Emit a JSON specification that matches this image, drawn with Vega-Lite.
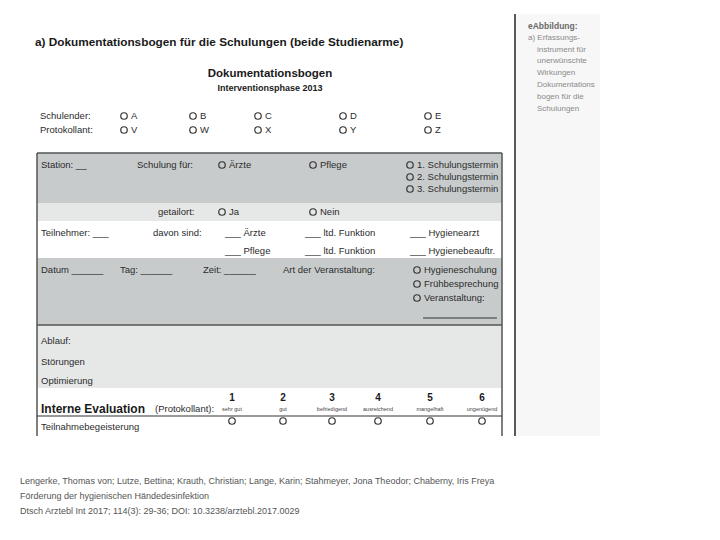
{
  "$schema": "https://vega.github.io/schema/vega-lite/v6.json",
  "width": 720,
  "height": 540,
  "autosize": {"type": "none"},
  "padding": 0,
  "background": "white",
  "config": {"view": {"stroke": null}},
  "datasets": {
    "bands": [
      {"x": 516, "x2": 600, "y": 14, "y2": 436, "band": "side"},
      {"x": 37, "x2": 502, "y": 153, "y2": 203, "band": "dark"},
      {"x": 37, "x2": 502, "y": 203, "y2": 221, "band": "light"},
      {"x": 37, "x2": 502, "y": 258, "y2": 325, "band": "dark"},
      {"x": 37, "x2": 502, "y": 325, "y2": 388, "band": "light"}
    ],
    "lines": [
      {"x": 515, "x2": 515, "y": 14, "y2": 436, "kind": "sep"},
      {"x": 37, "x2": 37, "y": 153, "y2": 436, "kind": "border"},
      {"x": 502, "x2": 502, "y": 153, "y2": 436, "kind": "border"},
      {"x": 37, "x2": 502, "y": 153, "y2": 153, "kind": "border"},
      {"x": 37, "x2": 502, "y": 325, "y2": 325, "kind": "border"},
      {"x": 37, "x2": 502, "y": 416, "y2": 416, "kind": "thin"},
      {"x": 423, "x2": 497, "y": 318, "y2": 318, "kind": "thin"}
    ],
    "radios": [
      {"x": 124, "y": 116}, {"x": 193, "y": 116}, {"x": 258, "y": 116}, {"x": 343, "y": 116}, {"x": 428, "y": 116},
      {"x": 124, "y": 130}, {"x": 193, "y": 130}, {"x": 258, "y": 130}, {"x": 343, "y": 130}, {"x": 428, "y": 130},
      {"x": 222, "y": 165}, {"x": 313, "y": 165}, {"x": 410, "y": 165}, {"x": 410, "y": 177}, {"x": 410, "y": 189},
      {"x": 222, "y": 212}, {"x": 313, "y": 212},
      {"x": 417, "y": 270}, {"x": 417, "y": 284}, {"x": 417, "y": 298},
      {"x": 232, "y": 421}, {"x": 283, "y": 421}, {"x": 332, "y": 421}, {"x": 378, "y": 421}, {"x": 430, "y": 421}, {"x": 482, "y": 421}
    ],
    "texts": [
      {"role": "title", "x": 35, "y": 42, "text": "a) Dokumentationsbogen für die Schulungen (beide Studienarme)"},
      {"role": "head", "x": 270, "y": 74, "text": "Dokumentationsbogen"},
      {"role": "sub", "x": 270, "y": 88, "text": "Interventionsphase 2013"},
      {"role": "form", "x": 40, "y": 116, "text": "Schulender:"},
      {"role": "form", "x": 40, "y": 130, "text": "Protokollant:"},
      {"role": "form", "x": 131, "y": 116, "text": "A"},
      {"role": "form", "x": 200, "y": 116, "text": "B"},
      {"role": "form", "x": 265, "y": 116, "text": "C"},
      {"role": "form", "x": 350, "y": 116, "text": "D"},
      {"role": "form", "x": 435, "y": 116, "text": "E"},
      {"role": "form", "x": 131, "y": 130, "text": "V"},
      {"role": "form", "x": 200, "y": 130, "text": "W"},
      {"role": "form", "x": 265, "y": 130, "text": "X"},
      {"role": "form", "x": 350, "y": 130, "text": "Y"},
      {"role": "form", "x": 435, "y": 130, "text": "Z"},
      {"role": "form", "x": 41, "y": 165, "text": "Station: __"},
      {"role": "form", "x": 137, "y": 165, "text": "Schulung für:"},
      {"role": "form", "x": 229, "y": 165, "text": "Ärzte"},
      {"role": "form", "x": 320, "y": 165, "text": "Pflege"},
      {"role": "form", "x": 417, "y": 165, "text": "1. Schulungstermin"},
      {"role": "form", "x": 417, "y": 177, "text": "2. Schulungstermin"},
      {"role": "form", "x": 417, "y": 189, "text": "3. Schulungstermin"},
      {"role": "form", "x": 158, "y": 212, "text": "getailort:"},
      {"role": "form", "x": 229, "y": 212, "text": "Ja"},
      {"role": "form", "x": 320, "y": 212, "text": "Nein"},
      {"role": "form", "x": 41, "y": 233, "text": "Teilnehmer: ___"},
      {"role": "form", "x": 153, "y": 233, "text": "davon sind:"},
      {"role": "form", "x": 225, "y": 233, "text": "___ Ärzte"},
      {"role": "form", "x": 305, "y": 233, "text": "___ ltd. Funktion"},
      {"role": "form", "x": 410, "y": 233, "text": "___ Hygienearzt"},
      {"role": "form", "x": 225, "y": 251, "text": "___ Pflege"},
      {"role": "form", "x": 305, "y": 251, "text": "___ ltd. Funktion"},
      {"role": "form", "x": 410, "y": 251, "text": "___ Hygienebeauftr."},
      {"role": "form", "x": 41, "y": 270, "text": "Datum ______"},
      {"role": "form", "x": 120, "y": 270, "text": "Tag: ______"},
      {"role": "form", "x": 203, "y": 270, "text": "Zeit: ______"},
      {"role": "form", "x": 283, "y": 270, "text": "Art der Veranstaltung:"},
      {"role": "form", "x": 424, "y": 270, "text": "Hygieneschulung"},
      {"role": "form", "x": 424, "y": 284, "text": "Frühbesprechung"},
      {"role": "form", "x": 424, "y": 298, "text": "Veranstaltung:"},
      {"role": "form", "x": 41, "y": 341, "text": "Ablauf:"},
      {"role": "form", "x": 41, "y": 362, "text": "Störungen"},
      {"role": "form", "x": 41, "y": 381, "text": "Optimierung"},
      {"role": "form", "x": 41, "y": 427, "text": "Teilnahmebegeisterung"},
      {"role": "formbold", "x": 41, "y": 409, "text": "Interne Evaluation"},
      {"role": "form", "x": 155, "y": 409, "text": "(Protokollant):"},
      {"role": "num", "x": 232, "y": 398, "text": "1"},
      {"role": "num", "x": 283, "y": 398, "text": "2"},
      {"role": "num", "x": 332, "y": 398, "text": "3"},
      {"role": "num", "x": 378, "y": 398, "text": "4"},
      {"role": "num", "x": 430, "y": 398, "text": "5"},
      {"role": "num", "x": 482, "y": 398, "text": "6"},
      {"role": "small", "x": 232, "y": 409, "text": "sehr gut"},
      {"role": "small", "x": 283, "y": 409, "text": "gut"},
      {"role": "small", "x": 332, "y": 409, "text": "befriedigend"},
      {"role": "small", "x": 378, "y": 409, "text": "ausreichend"},
      {"role": "small", "x": 430, "y": 409, "text": "mangelhaft"},
      {"role": "small", "x": 482, "y": 409, "text": "ungenügend"},
      {"role": "sidebold", "x": 528, "y": 26, "text": "eAbbildung:"},
      {"role": "side", "x": 528, "y": 38, "text": "a) Erfassungs-"},
      {"role": "side", "x": 537, "y": 50, "text": "instrument für"},
      {"role": "side", "x": 537, "y": 61, "text": "unerwünschte"},
      {"role": "side", "x": 537, "y": 73, "text": "Wirkungen"},
      {"role": "side", "x": 537, "y": 85, "text": "Dokumentations"},
      {"role": "side", "x": 537, "y": 97, "text": "bogen für die"},
      {"role": "side", "x": 537, "y": 109, "text": "Schulungen"},
      {"role": "foot", "x": 20, "y": 481, "text": "Lengerke, Thomas von; Lutze, Bettina; Krauth, Christian; Lange, Karin; Stahmeyer, Jona Theodor; Chaberny, Iris Freya"},
      {"role": "foot", "x": 20, "y": 496, "text": "Förderung der hygienischen Händedesinfektion"},
      {"role": "foot", "x": 20, "y": 511, "text": "Dtsch Arztebl Int 2017; 114(3): 29-36; DOI: 10.3238/arztebl.2017.0029"}
    ]
  },
  "layer": [
    {
      "data": {"name": "bands"},
      "mark": {"type": "rect"},
      "encoding": {
        "x": {"field": "x", "type": "quantitative", "scale": {"domain": [0, 720], "range": [0, 720], "nice": false, "zero": false}, "axis": null},
        "x2": {"field": "x2"},
        "y": {"field": "y", "type": "quantitative", "scale": {"domain": [0, 540], "range": [0, 540], "nice": false, "zero": false}, "axis": null},
        "y2": {"field": "y2"},
        "color": {"field": "band", "type": "nominal", "scale": {"domain": ["side", "dark", "light"], "range": ["#f7f7f7", "#c8cbcc", "#e6e7e7"]}, "legend": null}
      }
    },
    {
      "data": {"name": "lines"},
      "transform": [{"filter": "datum.kind === 'sep'"}],
      "mark": {"type": "rule", "strokeWidth": 1.5, "color": "#222222"},
      "encoding": {
        "x": {"field": "x", "type": "quantitative"},
        "x2": {"field": "x2"},
        "y": {"field": "y", "type": "quantitative"},
        "y2": {"field": "y2"}
      }
    },
    {
      "data": {"name": "lines"},
      "transform": [{"filter": "datum.kind === 'border'"}],
      "mark": {"type": "rule", "strokeWidth": 1.5, "color": "#555555"},
      "encoding": {
        "x": {"field": "x", "type": "quantitative"},
        "x2": {"field": "x2"},
        "y": {"field": "y", "type": "quantitative"},
        "y2": {"field": "y2"}
      }
    },
    {
      "data": {"name": "lines"},
      "transform": [{"filter": "datum.kind === 'thin'"}],
      "mark": {"type": "rule", "strokeWidth": 1, "color": "#333333"},
      "encoding": {
        "x": {"field": "x", "type": "quantitative"},
        "x2": {"field": "x2"},
        "y": {"field": "y", "type": "quantitative"},
        "y2": {"field": "y2"}
      }
    },
    {
      "data": {"name": "radios"},
      "mark": {"type": "point", "shape": "circle", "filled": false, "size": 42, "strokeWidth": 1.2, "color": "#333333", "opacity": 1},
      "encoding": {
        "x": {"field": "x", "type": "quantitative"},
        "y": {"field": "y", "type": "quantitative"}
      }
    },
    {
      "data": {"name": "texts"},
      "transform": [{"filter": "datum.role === 'title'"}],
      "mark": {"type": "text", "align": "left", "baseline": "middle", "font": "Liberation Sans", "fontWeight": "bold", "fontSize": 11.8, "color": "#1a1a1a"},
      "encoding": {"x": {"field": "x", "type": "quantitative"}, "y": {"field": "y", "type": "quantitative"}, "text": {"field": "text"}}
    },
    {
      "data": {"name": "texts"},
      "transform": [{"filter": "datum.role === 'head'"}],
      "mark": {"type": "text", "align": "center", "baseline": "middle", "font": "Liberation Sans", "fontWeight": "bold", "fontSize": 11.5, "color": "#1a1a1a"},
      "encoding": {"x": {"field": "x", "type": "quantitative"}, "y": {"field": "y", "type": "quantitative"}, "text": {"field": "text"}}
    },
    {
      "data": {"name": "texts"},
      "transform": [{"filter": "datum.role === 'sub'"}],
      "mark": {"type": "text", "align": "center", "baseline": "middle", "font": "Liberation Sans", "fontWeight": "bold", "fontSize": 9, "color": "#1a1a1a"},
      "encoding": {"x": {"field": "x", "type": "quantitative"}, "y": {"field": "y", "type": "quantitative"}, "text": {"field": "text"}}
    },
    {
      "data": {"name": "texts"},
      "transform": [{"filter": "datum.role === 'form'"}],
      "mark": {"type": "text", "align": "left", "baseline": "middle", "font": "Liberation Sans", "fontSize": 9.5, "color": "#2b2b2b"},
      "encoding": {"x": {"field": "x", "type": "quantitative"}, "y": {"field": "y", "type": "quantitative"}, "text": {"field": "text"}}
    },
    {
      "data": {"name": "texts"},
      "transform": [{"filter": "datum.role === 'formbold'"}],
      "mark": {"type": "text", "align": "left", "baseline": "middle", "font": "Liberation Sans", "fontWeight": "bold", "fontSize": 12, "color": "#1a1a1a"},
      "encoding": {"x": {"field": "x", "type": "quantitative"}, "y": {"field": "y", "type": "quantitative"}, "text": {"field": "text"}}
    },
    {
      "data": {"name": "texts"},
      "transform": [{"filter": "datum.role === 'num'"}],
      "mark": {"type": "text", "align": "center", "baseline": "middle", "font": "Liberation Sans", "fontWeight": "bold", "fontSize": 10, "color": "#1a1a1a"},
      "encoding": {"x": {"field": "x", "type": "quantitative"}, "y": {"field": "y", "type": "quantitative"}, "text": {"field": "text"}}
    },
    {
      "data": {"name": "texts"},
      "transform": [{"filter": "datum.role === 'small'"}],
      "mark": {"type": "text", "align": "center", "baseline": "middle", "font": "Liberation Sans", "fontSize": 5.5, "color": "#444444"},
      "encoding": {"x": {"field": "x", "type": "quantitative"}, "y": {"field": "y", "type": "quantitative"}, "text": {"field": "text"}}
    },
    {
      "data": {"name": "texts"},
      "transform": [{"filter": "datum.role === 'sidebold'"}],
      "mark": {"type": "text", "align": "left", "baseline": "middle", "font": "Liberation Sans", "fontWeight": "bold", "fontSize": 8.5, "color": "#6a6a6a"},
      "encoding": {"x": {"field": "x", "type": "quantitative"}, "y": {"field": "y", "type": "quantitative"}, "text": {"field": "text"}}
    },
    {
      "data": {"name": "texts"},
      "transform": [{"filter": "datum.role === 'side'"}],
      "mark": {"type": "text", "align": "left", "baseline": "middle", "font": "Liberation Sans", "fontSize": 8, "color": "#8a8a8a"},
      "encoding": {"x": {"field": "x", "type": "quantitative"}, "y": {"field": "y", "type": "quantitative"}, "text": {"field": "text"}}
    },
    {
      "data": {"name": "texts"},
      "transform": [{"filter": "datum.role === 'foot'"}],
      "mark": {"type": "text", "align": "left", "baseline": "middle", "font": "Liberation Sans", "fontSize": 9, "color": "#555555"},
      "encoding": {"x": {"field": "x", "type": "quantitative"}, "y": {"field": "y", "type": "quantitative"}, "text": {"field": "text"}}
    }
  ]
}
